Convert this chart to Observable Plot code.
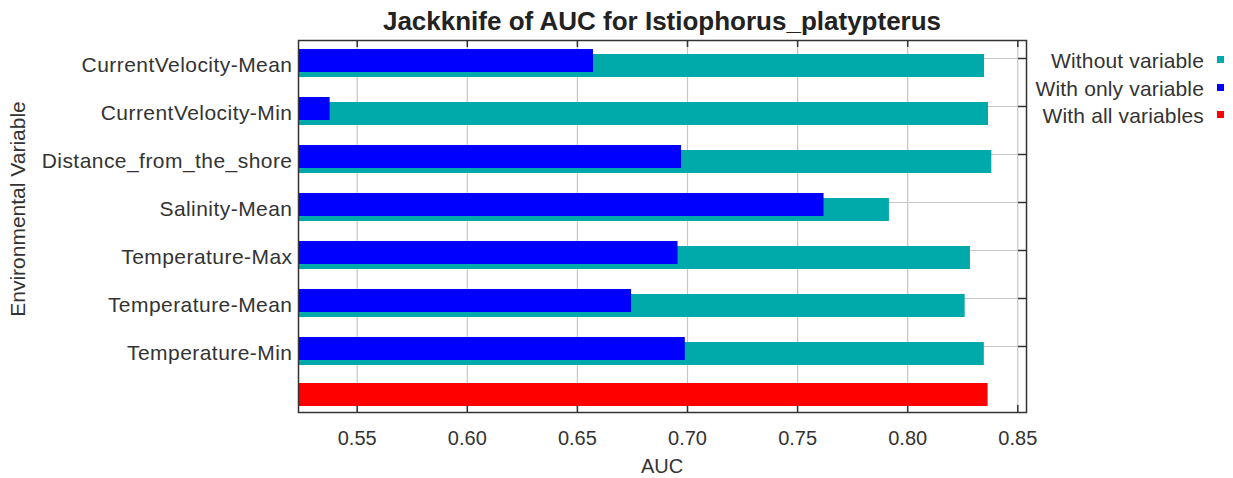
<!DOCTYPE html>
<html>
<head>
<meta charset="utf-8">
<script src="https://cdn.jsdelivr.net/npm/d3@7"></script>
<script src="https://cdn.jsdelivr.net/npm/@observablehq/plot@0.6"></script>
<style>
  html, body { margin: 0; padding: 0; background: #fff; }
  #wrap { position: relative; width: 1233px; height: 478px; overflow: hidden; font-family: "Liberation Sans", Arial, sans-serif; color: #333; }
  #chart { position: absolute; left: 0; top: 0; }
  #chart g[aria-label="y-axis tick label"] text { letter-spacing: 0.45px; }
  .abs { position: absolute; white-space: nowrap; line-height: 1; }
  #title { left: 298px; width: 728px; top: 8px; text-align: center; font-weight: bold; font-size: 26px; color: #222; }
  #ylabel { left: 17px; top: 209px; font-size: 21px; transform: translate(-50%, -50%) rotate(-90deg); }
  #xlabel { left: 662px; top: 466px; font-size: 20px; transform: translate(-50%, -50%); }
  .leg { right: 29px; font-size: 21px; text-align: right; letter-spacing: 0.15px; }
  .sw { position: absolute; width: 7px; height: 7px; left: 1217px; }
</style>
</head>
<body>
<div id="wrap">
  <div id="chart"></div>
  <div id="title" class="abs">Jackknife of AUC for Istiophorus_platypterus</div>
  <div id="ylabel" class="abs">Environmental Variable</div>
  <div id="xlabel" class="abs">AUC</div>
  <div id="legend"></div>
</div>
<script>
const variables = ["CurrentVelocity-Mean", "CurrentVelocity-Min", "Distance_from_the_shore", "Salinity-Mean", "Temperature-Max", "Temperature-Mean", "Temperature-Min"];
const withoutVariable = [0.8349, 0.8367, 0.8382, 0.7917, 0.8285, 0.8261, 0.8348];
const withOnlyVariable = [0.6573, 0.5377, 0.6973, 0.7620, 0.6957, 0.6746, 0.6990];
const withAllVariables = [0.8365];
const xTicks = [0.55, 0.60, 0.65, 0.70, 0.75, 0.80, 0.85];
const legendLabels = ["Without variable", "With only variable", "With all variables"];
const colors = ["#00aaaa", "#0000ff", "#ff0000"];
const allKey = "__all__";
const xMin = 0.52334, xMax = 0.85395;

const gridColor = "#c6c6c6";
const axisColor = "#333";

const chart = Plot.plot({
  width: 1233,
  height: 478,
  marginLeft: 298,
  marginRight: 207,
  marginTop: 40,
  marginBottom: 66,
  style: { fontFamily: '"Liberation Sans", Arial, sans-serif', background: "white", color: "#333" },
  x: { domain: [xMin, xMax], axis: null },
  y: { type: "band", domain: [...variables, allKey], range: [39, 423], padding: 0, axis: null },
  marks: [
    Plot.ruleX(xTicks, { stroke: gridColor, strokeWidth: 1.2 }),
    Plot.ruleY(variables, { y: d => d, dy: -5, stroke: gridColor, strokeWidth: 1.2 }),
    Plot.barX(variables, { y: d => d, x1: xMin, x2: (d, i) => withoutVariable[i], fill: colors[0], insetTop: 15, insetBottom: 10 }),
    Plot.barX(variables, { y: d => d, x1: xMin, x2: (d, i) => withOnlyVariable[i], fill: colors[1], insetTop: 10, insetBottom: 15 }),
    Plot.barX(withAllVariables, { y: () => allKey, x1: xMin, x2: d => d, fill: colors[2], insetTop: 8, insetBottom: 17 }),
    Plot.ruleX(xTicks, { insetBottom: 365, stroke: axisColor, strokeWidth: 1.5 }),
    Plot.ruleX(xTicks, { insetTop: 365, stroke: axisColor, strokeWidth: 1.5 }),
    Plot.ruleY(variables, { y: d => d, dy: -5, insetLeft: 720, stroke: axisColor, strokeWidth: 1.5 }),
    Plot.frame({ stroke: axisColor, strokeWidth: 1.5 }),
    Plot.axisX(xTicks, { tickSize: 0, tickPadding: 18, tickFormat: d3.format(".2f"), fontSize: 20, label: null }),
    Plot.axisY(variables, { tickSize: 0, tickPadding: 6, fontSize: 21, dy: 2, label: null })
  ]
});
document.getElementById("chart").appendChild(chart);

const legend = document.getElementById("legend");
legendLabels.forEach((lab, i) => {
  const t = document.createElement("div");
  t.className = "abs leg";
  t.style.top = (50 + i * 27.5) + "px";
  t.textContent = lab;
  legend.appendChild(t);
  const s = document.createElement("div");
  s.className = "sw";
  s.style.top = (56 + i * 27.5) + "px";
  s.style.background = colors[i];
  legend.appendChild(s);
});
</script>
</body>
</html>
